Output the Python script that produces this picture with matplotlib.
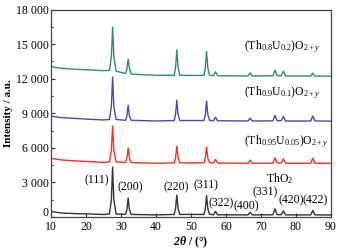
import matplotlib
matplotlib.use("Agg")
import matplotlib.pyplot as plt
import matplotlib.transforms as mtransforms
from matplotlib.ticker import FuncFormatter, MultipleLocator

plt.rcParams['font.family'] = ['Liberation Serif', 'DejaVu Serif']
plt.rcParams['mathtext.fontset'] = 'custom'
plt.rcParams['mathtext.rm'] = 'Liberation Serif'
plt.rcParams['mathtext.it'] = 'Liberation Serif:italic'
plt.rcParams['mathtext.bf'] = 'Liberation Serif:bold:italic'

# 2theta sampling points (peaks + baseline)
two_theta = [10, 13, 17, 21, 25, 26.7, 27.25, 27.6, 27.95, 28.6, 31.3, 31.7, 32.05, 32.4, 32.9,
             40, 45.2, 45.6, 45.95, 46.3, 46.8, 53.7, 54.1, 54.45, 54.8, 55.3, 56.4, 57.0, 57.6,
             66.3, 66.9, 67.5, 73.4, 74.0, 74.6, 75.8, 76.4, 77.0, 84.2, 84.8, 85.4, 90]

tho2 = [480, 340, 290, 260, 210, 260, 1500, 4330, 1500, 260, 230, 650, 1650, 650, 220,
        180, 220, 750, 1900, 750, 220, 220, 730, 1850, 730, 230, 190, 480, 190,
        180, 400, 180, 190, 700, 200, 200, 520, 180, 180, 560, 180, 170]

u005 = [5080, 4950, 4870, 4800, 4740, 4780, 5800, 7890, 5800, 4780, 4720, 5150, 5980, 5150, 4720,
        4660, 4700, 5150, 6150, 5150, 4700, 4700, 5120, 6070, 5120, 4720, 4680, 5000, 4680,
        4660, 4940, 4660, 4670, 5130, 4690, 4690, 5050, 4660, 4660, 5110, 4660, 4650]

u01 = [8750, 8620, 8550, 8480, 8420, 8460, 9600, 12140, 9600, 8460, 8390, 8780, 9710, 8780, 8390,
       8330, 8370, 8920, 10140, 8920, 8370, 8370, 8900, 10060, 8900, 8390, 8350, 8650, 8350,
       8330, 8580, 8330, 8340, 8800, 8360, 8360, 8720, 8330, 8330, 8760, 8330, 8320]

u02 = [13050, 12900, 12820, 12760, 12700, 12720, 13900, 16470, 13900, 12650, 12450, 12880, 13700, 12880, 12400,
       12300, 12290, 13000, 14500, 13000, 12290, 12280, 12950, 14350, 12950, 12300, 12260, 12600, 12260,
       12240, 12500, 12240, 12250, 12750, 12270, 12270, 12650, 12240, 12230, 12480, 12230, 12220]

hkl_labels = ['(111)', '(200)', '(220)', '(311)', '(322)', '(400)', '(331)', '(420)', '(422)']
hkl_x = [23.0, 32.5, 45.7, 54.4, 58.5, 65.7, 71.3, 78.5, 85.5]
hkl_y = [3200, 2600, 2600, 2750, 1200, 950, 2150, 1450, 1450]

series_names = [r'(Th$_{0.8}$U$_{0.2}$)O$_{2+y}$', r'(Th$_{0.9}$U$_{0.1}$)O$_{2+y}$',
                r'(Th$_{0.95}$U$_{0.05}$)O$_{2+y}$']
name_y = [14750, 10750, 6500]

fig = plt.figure(figsize=(3.41, 2.52), dpi=100)
ax = fig.add_axes([0.1496, 0.139, 0.821, 0.823])

ax.plot(two_theta, tho2, color='#333333', lw=1.0)
ax.plot(two_theta, u005, color='#ff2a2a', lw=1.0)
ax.plot(two_theta, u01, color='#4a48a8', lw=1.0)
ax.plot(two_theta, u02, color='#2f8a78', lw=1.0)

for lab, x, y in zip(hkl_labels, hkl_x, hkl_y):
    ax.text(x, y, lab, fontsize=8.5, ha='center', va='center')
ax.text(75.3, 3300, r'ThO$_2$', fontsize=8.5, ha='center', va='center')

for name, y in zip(series_names, name_y):
    ax.text(65.2, y, name, fontsize=8.5, ha='left', va='center')

ax.set_xlim(10, 90)
ax.set_ylim(0, 18000)
ax.xaxis.set_major_locator(MultipleLocator(10))
ax.yaxis.set_major_locator(MultipleLocator(3000))
ax.yaxis.set_minor_locator(MultipleLocator(1500))
# "0" is drawn separately, a bit higher, like in the original
ax.yaxis.set_major_formatter(FuncFormatter(lambda v, p: "" if v == 0 else f"{int(v):,}".replace(",", " ")))
ax.tick_params(direction='in', labelsize=8.5, length=3, width=0.8, pad=1.5, colors='#333333')
ax.tick_params(axis='x', pad=3)
ax.tick_params(which='minor', direction='in', length=1.5, width=0.6)
for lab in ax.get_xticklabels() + ax.get_yticklabels():
    lab.set_color('black')
for s in ax.spines.values():
    s.set_color('#444444')
    s.set_linewidth(0.9)

zero_tr = ax.get_yaxis_transform() + mtransforms.ScaledTranslation(-1.5 / 72, 3 / 72, fig.dpi_scale_trans)
ax.text(0, 0, "0", transform=zero_tr, fontsize=8.5, ha='right', va='center')

ax.set_ylabel('Intensity / a.u.', fontsize=8, fontweight='bold', labelpad=2)
ax.set_xlabel(r'$\mathbf{2\theta}$ / (°)', fontsize=8.5, fontweight='bold', labelpad=1)

fig.savefig('out.png', dpi=100)
